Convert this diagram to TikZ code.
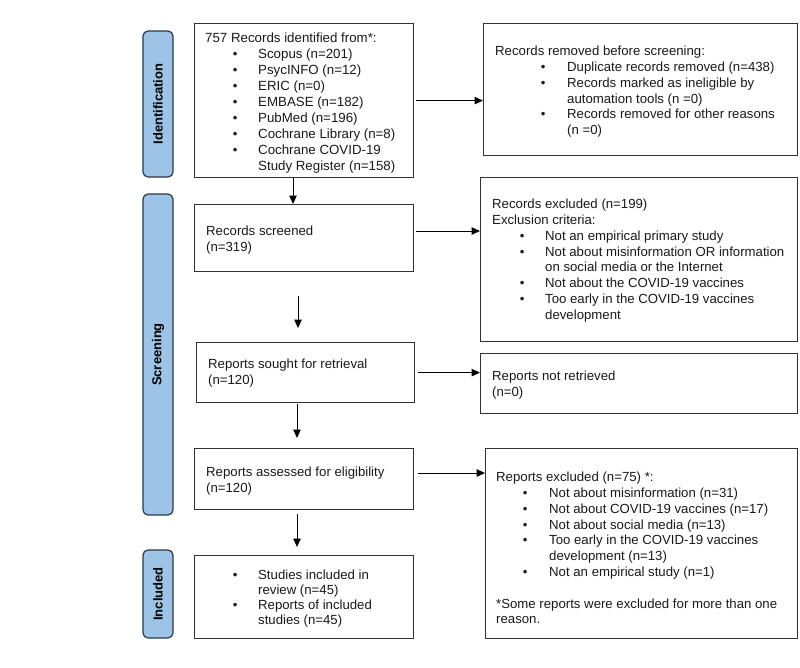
\documentclass[tikz,border=0pt]{standalone}
\usepackage{fontspec}
\setmainfont{Liberation Sans}
\usetikzlibrary{arrows.meta}
\definecolor{lblfill}{RGB}{157,195,230}
\definecolor{lbldraw}{RGB}{45,55,70}
\definecolor{boxdraw}{RGB}{50,50,50}
\newcommand\pbul[2]{\hspace*{#1pt}\makebox[#2pt][l]{\textbullet}}
\newcommand\pind[1]{\hspace*{#1pt}}
\begin{document}
\begin{tikzpicture}[x=1pt,y=-1pt,
  box/.style={draw=boxdraw, line width=1.2pt, rectangle, anchor=north west, inner sep=0pt},
  lbl/.style={draw=lbldraw, fill=lblfill, line width=1.2pt, rounded corners=5pt, rotate=90, inner sep=0pt, minimum height=30pt, font=\fontsize{13pt}{15pt}\selectfont\bfseries},
  txt/.style={anchor=north west, inner sep=0pt, align=left, font=\fontsize{13.2pt}{15.8pt}\selectfont, text=black!90},
  arr/.style={draw=black, line width=1pt, -{Triangle[length=8.5pt,width=7.5pt]}}]
\useasboundingbox (0,0) rectangle (800,667);

% phase labels
\node[lbl, minimum width=146pt] (l1) at (158,104) {Identification};
\node[lbl, minimum width=321pt] (l2) at (158,354.5) {Screening};
\node[lbl, minimum width=88pt] (l3) at (158,594) {Included};

% left column boxes
\node[box, minimum width=219pt, minimum height=154pt] (b1) at (194,23) {};
\node[box, minimum width=219pt, minimum height=67pt] (b2) at (194,204) {};
\node[box, minimum width=218pt, minimum height=60pt] (b3) at (196,342) {};
\node[box, minimum width=219pt, minimum height=61pt] (b4) at (194,448) {};
\node[box, minimum width=219pt, minimum height=83pt] (b5) at (194,555) {};

% right column boxes
\node[box, minimum width=314pt, minimum height=132pt] (r1) at (483,23) {};
\node[box, minimum width=317pt, minimum height=164pt] (r2) at (480,177) {};
\node[box, minimum width=317pt, minimum height=60pt] (r3) at (480,353) {};
\node[box, minimum width=312pt, minimum height=190pt] (r4) at (485,448) {};

% texts
\node[txt, font=\fontsize{13.3pt}{16pt}\selectfont] (t1) at (205,32.3) {757 Records identified from*:\\
\pbul{27.7}{25.3}Scopus (n=201)\\
\pbul{27.7}{25.3}PsycINFO (n=12)\\
\pbul{27.7}{25.3}ERIC (n=0)\\
\pbul{27.7}{25.3}EMBASE (n=182)\\
\pbul{27.7}{25.3}PubMed (n=196)\\
\pbul{27.7}{25.3}Cochrane Library (n=8)\\
\pbul{27.7}{25.3}Cochrane COVID-19\\
\pind{53}Study Register (n=158)};

\node[txt] (tr1) at (495,46) {Records removed before screening:\\
\pbul{45.7}{26.3}Duplicate records removed (n=438)\\
\pbul{45.7}{26.3}Records marked as ineligible by\\
\pind{72}automation tools (n =0)\\
\pbul{45.7}{26.3}Records removed for other reasons\\
\pind{72}(n =0)};

\node[txt] (t2) at (206,226) {Records screened\\(n=319)};

\node[txt] (tr2) at (492,199) {Records excluded (n=199)\\
Exclusion criteria:\\
\pbul{27.7}{25.3}Not an empirical primary study\\
\pbul{27.7}{25.3}Not about misinformation OR information\\
\pind{53}on social media or the Internet\\
\pbul{27.7}{25.3}Not about the COVID-19 vaccines\\
\pbul{27.7}{25.3}Too early in the COVID-19 vaccines\\
\pind{53}development};

\node[txt] (t3) at (208,359) {Reports sought for retrieval\\(n=120)};
\node[txt] (tr3) at (492,371) {Reports not retrieved\\(n=0)};

\node[txt] (t4) at (206,467) {Reports assessed for eligibility\\(n=120)};

\node[txt] (tr4) at (496,472) {Reports excluded (n=75) *:\\
\pbul{26.7}{26.3}Not about misinformation (n=31)\\
\pbul{26.7}{26.3}Not about COVID-19 vaccines (n=17)\\
\pbul{26.7}{26.3}Not about social media (n=13)\\
\pbul{26.7}{26.3}Too early in the COVID-19 vaccines\\
\pind{53}development (n=13)\\
\pbul{26.7}{26.3}Not an empirical study (n=1)\\
\mbox{}\\
*Some reports were excluded for more than one\\
reason.};

\node[txt, font=\fontsize{13.2pt}{15pt}\selectfont] (t5) at (205,570) {\pbul{27.7}{25.3}Studies included in\\
\pind{53}review (n=45)\\
\pbul{27.7}{25.3}Reports of included\\
\pind{53}studies (n=45)};

% connectors
\coordinate (c1) at (293,0);
\coordinate (s2) at (298,296);
\coordinate (e2) at (298,328);
\coordinate (s3) at (297,404);
\coordinate (e3) at (297,438);
\coordinate (s4) at (297,514);
\coordinate (e4) at (297,547);
\coordinate (h2) at (0,231);
\coordinate (h4) at (0,473);

\draw[arr] (b1.south -| c1) -- (b2.north -| c1);
\draw[arr] (s2) -- (e2);
\draw[arr] (s3) -- (e3);
\draw[arr] (s4) -- (e4);

\draw[arr] ([xshift=2pt]b1.east) -- (r1.west |- b1.east);
\draw[arr] ([xshift=2pt]b2.east |- h2) -- (r2.west |- h2);
\draw[arr] ([xshift=3pt]b3.east) -- (r3.west |- b3.east);
\draw[arr] ([xshift=4pt]b4.east |- h4) -- (r4.west |- h4);
\end{tikzpicture}
\end{document}
